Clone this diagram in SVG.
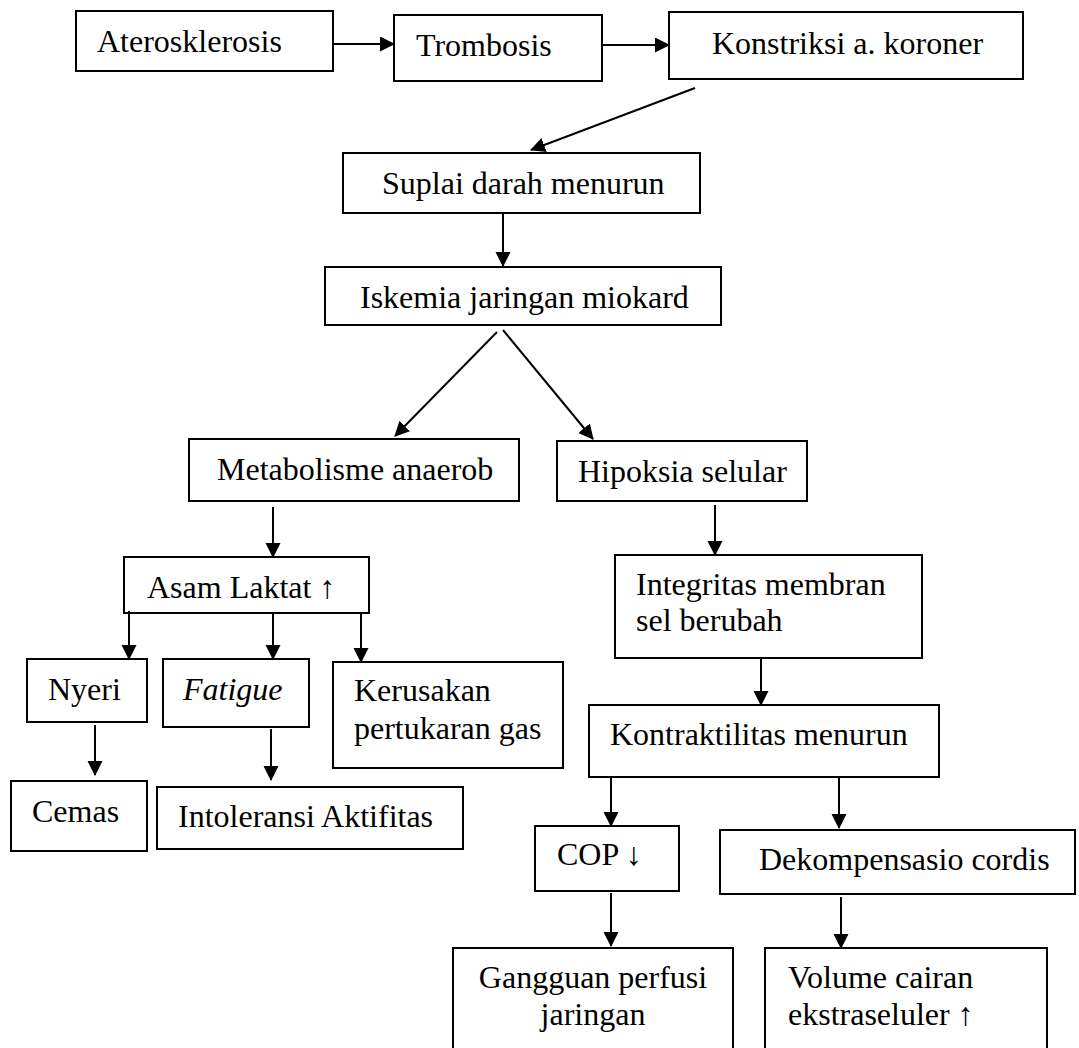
<svg xmlns="http://www.w3.org/2000/svg" width="1079" height="1048" viewBox="0 0 1079 1048">
<style>
.box{fill:#fff;stroke:#000;stroke-width:2}
.t{font-family:"Liberation Serif","Times New Roman",serif;font-size:32px;fill:#000}
.c line{stroke:#000;stroke-width:2;marker-end:url(#ah)}
</style>
<defs>
<marker id="ah" markerUnits="userSpaceOnUse" markerWidth="16" markerHeight="16" refX="14" refY="7.5" orient="auto">
<path d="M0,0 L15,7.5 L0,15 z" fill="#000"/>
</marker>
</defs>
<rect width="1079" height="1048" fill="#fff"/>
<g id="n-aterosklerosis"><rect class="box" x="76" y="11" width="257" height="60"/><text class="t" x="97" y="52">Aterosklerosis</text></g>
<g id="n-trombosis"><rect class="box" x="394" y="15" width="208" height="66"/><text class="t" x="416" y="56">Trombosis</text></g>
<g id="n-konstriksi"><rect class="box" x="669" y="12" width="354" height="67"/><text class="t" x="712" y="54">Konstriksi a. koroner</text></g>
<g id="n-suplai"><rect class="box" x="343" y="153" width="357" height="60"/><text class="t" x="382" y="194">Suplai darah menurun</text></g>
<g id="n-iskemia"><rect class="box" x="325" y="267" width="396" height="58"/><text class="t" x="360" y="308">Iskemia jaringan miokard</text></g>
<g id="n-metabolisme"><rect class="box" x="189" y="439" width="330" height="62"/><text class="t" x="217" y="480">Metabolisme anaerob</text></g>
<g id="n-hipoksia"><rect class="box" x="557" y="441" width="250" height="60"/><text class="t" x="578" y="482">Hipoksia selular</text></g>
<g id="n-asam"><rect class="box" x="124" y="557" width="245" height="56"/><text class="t" x="147" y="598">Asam Laktat ↑</text></g>
<g id="n-integritas"><rect class="box" x="615" y="555" width="307" height="103"/><text class="t" x="636" y="595">Integritas membran</text><text class="t" x="636" y="631">sel berubah</text></g>
<g id="n-nyeri"><rect class="box" x="27" y="659" width="120" height="63"/><text class="t" x="48" y="700">Nyeri</text></g>
<g id="n-fatigue"><rect class="box" x="163" y="659" width="146" height="68"/><text class="t" x="183" y="700" font-style="italic">Fatigue</text></g>
<g id="n-kerusakan"><rect class="box" x="333" y="662" width="230" height="106"/><text class="t" x="354" y="701">Kerusakan</text><text class="t" x="354" y="739">pertukaran gas</text></g>
<g id="n-kontraktilitas"><rect class="box" x="589" y="705" width="350" height="72"/><text class="t" x="610" y="745">Kontraktilitas menurun</text></g>
<g id="n-cemas"><rect class="box" x="11" y="781" width="136" height="70"/><text class="t" x="32" y="822">Cemas</text></g>
<g id="n-intoleransi"><rect class="box" x="157" y="787" width="306" height="62"/><text class="t" x="178" y="827">Intoleransi Aktifitas</text></g>
<g id="n-cop"><rect class="box" x="535" y="826" width="144" height="65"/><text class="t" x="557" y="865">COP ↓</text></g>
<g id="n-dekompensasio"><rect class="box" x="720" y="830" width="355" height="64"/><text class="t" x="759" y="870">Dekompensasio cordis</text></g>
<g id="n-gangguan"><rect class="box" x="453" y="948" width="280" height="110"/><text class="t" x="593" y="988" text-anchor="middle">Gangguan perfusi</text><text class="t" x="593" y="1025" text-anchor="middle">jaringan</text></g>
<g id="n-volume"><rect class="box" x="765" y="948" width="282" height="110"/><text class="t" x="788" y="988">Volume cairan</text><text class="t" x="788" y="1025">ekstraseluler ↑</text></g>
<g id="connectors" class="c">
<line x1="333" y1="44" x2="394" y2="44"/>
<line x1="602" y1="45" x2="669" y2="45"/>
<line x1="695" y1="88" x2="531" y2="150"/>
<line x1="503" y1="213" x2="503" y2="266"/>
<line x1="497" y1="332" x2="395" y2="436"/>
<line x1="503" y1="330" x2="593" y2="439"/>
<line x1="273" y1="507" x2="273" y2="557"/>
<line x1="129" y1="611" x2="129" y2="659"/>
<line x1="273" y1="613" x2="273" y2="659"/>
<line x1="361" y1="613" x2="361" y2="662"/>
<line x1="95" y1="725" x2="95" y2="775"/>
<line x1="271" y1="729" x2="271" y2="780"/>
<line x1="715" y1="505" x2="715" y2="555"/>
<line x1="761" y1="658" x2="761" y2="705"/>
<line x1="611" y1="777" x2="611" y2="826"/>
<line x1="839" y1="777" x2="839" y2="828"/>
<line x1="611" y1="893" x2="611" y2="946"/>
<line x1="841" y1="897" x2="841" y2="948"/>
</g>
</svg>
